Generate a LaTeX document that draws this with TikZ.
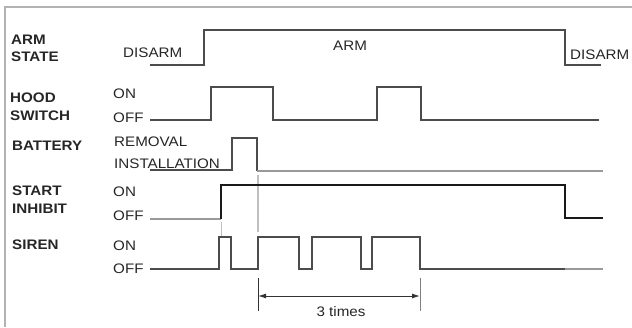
\documentclass[tikz,border=0pt]{standalone}
\usepackage{fontspec}
\setmainfont{Liberation Sans}[FakeStretch=1.1]
\usetikzlibrary{arrows.meta}
\begin{document}
\begin{tikzpicture}[x=1pt,y=-1pt,
  wave/.style={line width=1.5pt,draw=black!70},
  lwave/.style={line width=1.5pt,draw=black!40},
  frame/.style={line width=1.2pt,draw=black!30},
  guide/.style={line width=1.5pt,draw=black!25},
  sig/.style={font=\fontsize{13.8}{15}\selectfont\bfseries,anchor=west,inner sep=0pt,text=black!85},
  lvl/.style={font=\fontsize{13.8}{15}\selectfont,anchor=west,inner sep=0pt,text=black!85},
  dim/.style={line width=1pt,draw=black!80},
  ]
\useasboundingbox (0,0) rectangle (632,327);
\draw[frame] (5,327) -- (5,7) -- (632,7);

% labels
\node[sig] (armA) at (11,40) {ARM};
\node[sig] (armB) at (11,57) {STATE};
\node[sig] (hoodA) at (10,98) {HOOD};
\node[sig] (hoodB) at (10,116) {SWITCH};
\node[sig] (batt) at (12,146) {BATTERY};
\node[sig] (stA) at (12,191) {START};
\node[sig] (stB) at (12,209) {INHIBIT};
\node[sig] (sir) at (12,245) {SIREN};

\node[lvl] (dis1) at (123,53) {DISARM};
\node[lvl] (arm) at (333,46) {ARM};
\node[lvl] (dis2) at (570,55) {DISARM};
\node[lvl] (hon) at (113,94) {ON};
\node[lvl] (hoff) at (113,118) {OFF};
\node[lvl] (rem) at (114,142) {REMOVAL};
\node[lvl] (inst) at (114,164) {INSTALLATION};
\node[lvl] (son) at (113,192) {ON};
\node[lvl] (soff) at (113,216) {OFF};
\node[lvl] (gon) at (113,246) {ON};
\node[lvl] (goff) at (113,269) {OFF};

% guides
\draw[guide] (258,175) -- (258,232);
\draw[guide,line width=0.8pt] (221,222) -- (221,236);

% arm state
\draw[wave] (150,65) -- (204,65) -- (204,30) -- (565,30) -- (565,65) -- (601,65);
% hood switch
\draw[wave] (150,120) -- (211,120) -- (211,87) -- (273,87) -- (273,120) -- (377,120) -- (377,87) -- (421,87) -- (421,120) -- (599,120);
% battery
\draw[wave] (150,170) -- (232,170) -- (232,138) -- (257,138) -- (257,171);
\draw[lwave] (257,171) -- (603,171);
% start inhibit
\draw[lwave] (150,219) -- (221,219);
\draw[wave,draw=black!90] (221,219) -- (221,185) -- (565,185) -- (565,218) -- (603,218);
% siren
\draw[wave] (150,269) -- (219,269) -- (219,237) -- (231,237) -- (231,269) -- (258,269) -- (258,237) -- (299,237) -- (299,269) -- (312,269) -- (312,237) -- (361,237) -- (361,269) -- (372,269) -- (372,237) -- (420,237) -- (420,269) -- (565,269);
\draw[lwave] (565,269) -- (603,269);

% dimension
\coordinate (d1) at (258,296);
\coordinate (d2) at (420,296);
\draw[dim] (258,278) -- (258,311);
\draw[dim,draw=black!50] (420,278) -- (420,311);
\draw[dim,{Latex[length=8pt,width=5pt]}-{Latex[length=8pt,width=5pt]}] (d1) -- (d2);
\node[lvl,anchor=center] (times) at (341,312) {3 times};
\end{tikzpicture}
\end{document}
